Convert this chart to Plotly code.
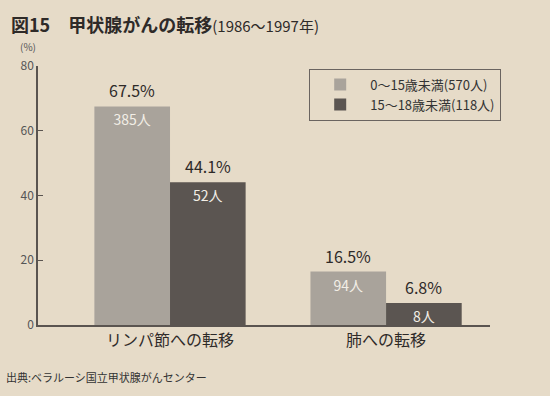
import plotly.graph_objects as go

categories = ["リンパ節への転移", "肺への転移"]
series_names = ["0〜15歳未満(570人)", "15〜18歳未満(118人)"]
pct_young = [67.5, 16.5]
pct_old = [44.1, 6.8]
n_young = [385, 94]
n_old = [52, 8]
y_ticks = [0, 20, 40, 60, 80]

FONT = "Noto Sans CJK JP"
BG = "#e6dbc8"
C_LIGHT = "#a9a39b"
C_DARK = "#5b5551"
W = 0.35

fig = go.Figure()
series = [(series_names[0], pct_young, n_young, C_LIGHT, -W / 2),
          (series_names[1], pct_old, n_old, C_DARK, W / 2)]
for name, vals, ns, col, off in series:
    xs = [i + off for i in range(len(categories))]
    fig.add_trace(go.Bar(
        x=xs, y=vals, width=W, name=name, marker=dict(color=col, line=dict(width=0)),
        text=[f"{n}人" for n in ns], textposition="inside", insidetextanchor="end",
        textfont=dict(family=FONT, size=14, color="#f2eee6"), textangle=0,
        cliponaxis=False, hoverinfo="skip",
    ))
    for x, v in zip(xs, vals):
        fig.add_annotation(x=x, y=v, text=f"{v}%", showarrow=False, yanchor="bottom", yshift=2,
                           font=dict(family=FONT, size=16, color="#2e2a28"))

fig.update_layout(
    width=550, height=396,
    paper_bgcolor=BG, plot_bgcolor=BG,
    margin=dict(l=38, r=60, t=66, b=71, autoexpand=False),
    barmode="overlay",
    showlegend=True,
    uniformtext=dict(minsize=14, mode="show"),
    legend=dict(x=0.6, y=0.99, xanchor="left", yanchor="top",
                bgcolor="rgba(0,0,0,0)", bordercolor="#6a6460", borderwidth=1,
                font=dict(family=FONT, size=13, color="#333"), tracegroupgap=12,
                itemwidth=50),
    font=dict(family=FONT, color="#333"),
)
fig.update_xaxes(range=[-0.611, 1.481], tickvals=list(range(len(categories))), ticktext=categories,
                 showgrid=False, zeroline=False, showline=True, linecolor="#5a5450", linewidth=1.5,
                 ticks="", tickfont=dict(family=FONT, size=16, color="#2e2a28"), automargin=False)
fig.update_yaxes(range=[0, 80], tickvals=y_ticks, showgrid=False, zeroline=False, showline=True,
                 linecolor="#5a5450", linewidth=1.5, ticks="inside", ticklen=5, tickcolor="#5a5450",
                 tickfont=dict(family=FONT, size=12, color="#555"), automargin=False)

fig.add_annotation(xref="paper", yref="paper", x=-0.045, y=1.0, yshift=10, text="(%)", showarrow=False,
                   xanchor="left", yanchor="bottom", font=dict(family=FONT, size=10, color="#555"))
fig.add_annotation(xref="paper", yref="paper", x=-0.065, y=1.0, yshift=42,
                   text="<b>図15　甲状腺がんの転移</b><span style='font-size:15px'>(1986〜1997年)</span>",
                   showarrow=False, xanchor="left", yanchor="middle",
                   font=dict(family=FONT, size=18, color="#2e2a28"))
fig.add_annotation(xref="paper", yref="paper", x=-0.075, y=0, yshift=-52,
                   text="出典:ベラルーシ国立甲状腺がんセンター", showarrow=False,
                   xanchor="left", yanchor="middle", font=dict(family=FONT, size=11, color="#333"))

fig.write_html("out.html", config={"displayModeBar": False},
               post_script="document.body.style.margin='0';document.body.style.background='#e6dbc8';")
